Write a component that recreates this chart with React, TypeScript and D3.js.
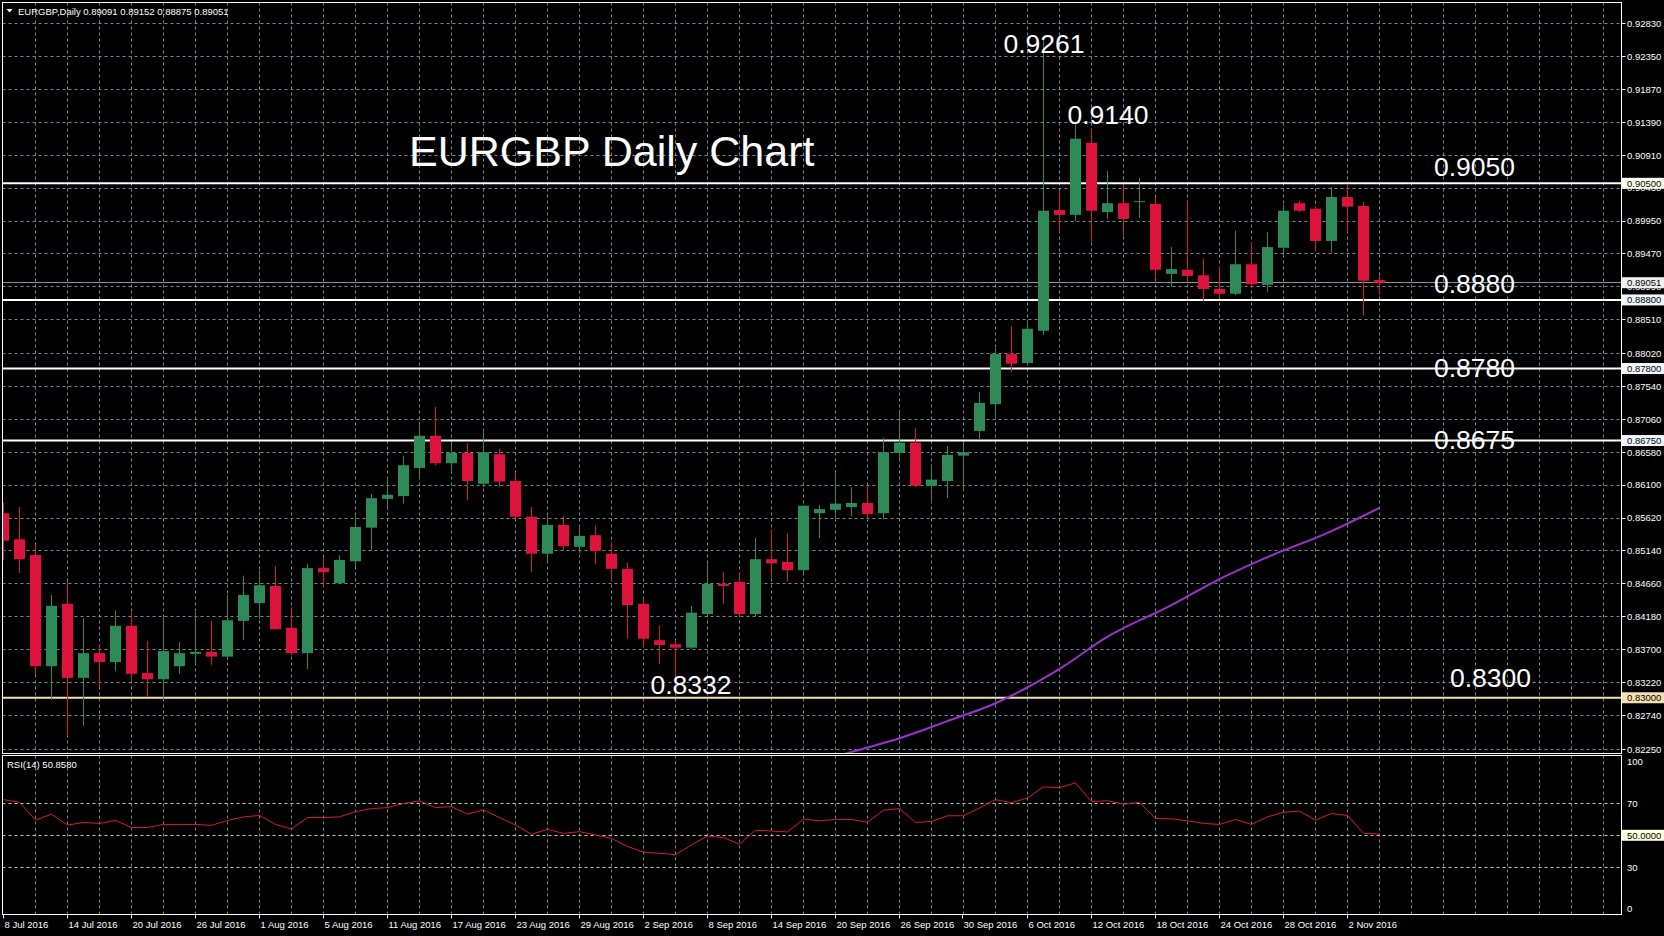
import React from 'react';
import * as d3 from 'd3';

const dateLabels = ["8 Jul 2016","14 Jul 2016","20 Jul 2016","26 Jul 2016","1 Aug 2016","5 Aug 2016","11 Aug 2016","17 Aug 2016","23 Aug 2016","29 Aug 2016","2 Sep 2016","8 Sep 2016","14 Sep 2016","20 Sep 2016","26 Sep 2016","30 Sep 2016","6 Oct 2016","12 Oct 2016","18 Oct 2016","24 Oct 2016","28 Oct 2016","2 Nov 2016"];

const opens = [0.8569,0.8531,0.8508,0.8346,0.8437,0.8329,0.8365,0.8352,0.8405,0.8336,0.8327,0.8346,0.8364,0.8367,0.8360,0.8412,0.8438,0.8463,0.8402,0.8365,0.8489,0.8467,0.8499,0.8548,0.8590,0.8594,0.8635,0.8682,0.8642,0.8657,0.8612,0.8655,0.8616,0.8564,0.8510,0.8552,0.8520,0.8537,0.8510,0.8488,0.8437,0.8384,0.8378,0.8373,0.8422,0.8466,0.8469,0.8422,0.8502,0.8498,0.8486,0.8569,0.8574,0.8578,0.8584,0.8569,0.8657,0.8672,0.8609,0.8616,0.8653,0.8689,0.8728,0.8801,0.8788,0.8835,0.9011,0.9004,0.9109,0.9008,0.9021,0.9023,0.9020,0.8918,0.8924,0.8916,0.8896,0.8889,0.8932,0.8902,0.8956,0.9021,0.9013,0.8966,0.9030,0.9017,0.89091];
const highs = [0.8585,0.8578,0.8523,0.8450,0.8469,0.8416,0.8378,0.8427,0.8424,0.8383,0.8421,0.8381,0.8425,0.8412,0.8450,0.8478,0.8486,0.8492,0.8432,0.8495,0.8504,0.8508,0.8565,0.8597,0.8623,0.8653,0.8702,0.8724,0.8673,0.8671,0.8693,0.8663,0.8628,0.8578,0.8565,0.8565,0.8553,0.8551,0.8527,0.8497,0.8444,0.8405,0.8384,0.8434,0.8496,0.8483,0.8483,0.8533,0.8545,0.8539,0.8581,0.8581,0.8632,0.8607,0.8610,0.8679,0.8720,0.8693,0.8641,0.8667,0.8673,0.8746,0.8810,0.8842,0.8851,0.9261,0.9039,0.9140,0.9129,0.9068,0.9046,0.9058,0.9030,0.8957,0.9026,0.8940,0.8928,0.8981,0.8964,0.8979,0.9019,0.9024,0.9016,0.9045,0.9049,0.9023,0.89152];
const lows = [0.8501,0.8482,0.8333,0.8297,0.8244,0.8259,0.8316,0.8339,0.8326,0.8301,0.8297,0.8335,0.8348,0.8348,0.8355,0.8384,0.8415,0.8399,0.8362,0.8342,0.8462,0.8467,0.8491,0.8515,0.8574,0.8583,0.8619,0.8639,0.8626,0.8588,0.8607,0.8607,0.8561,0.8483,0.8497,0.8515,0.8511,0.8495,0.8470,0.8386,0.8373,0.8349,0.8332,0.8371,0.8419,0.8437,0.8418,0.8419,0.8475,0.8470,0.8481,0.8533,0.8559,0.8565,0.8559,0.8560,0.8644,0.8607,0.8584,0.8591,0.8602,0.8676,0.8706,0.8775,0.8784,0.8829,0.8978,0.8995,0.8965,0.8998,0.8973,0.9000,0.8911,0.8899,0.8908,0.8879,0.8883,0.8887,0.8897,0.8892,0.8943,0.9008,0.8951,0.8949,0.8978,0.8857,0.88875];
const closes = [0.8529,0.8502,0.8346,0.8434,0.8329,0.8365,0.8352,0.8405,0.8335,0.8327,0.8368,0.8365,0.8367,0.8360,0.8413,0.8450,0.8464,0.8400,0.8365,0.8489,0.8483,0.8501,0.8549,0.8591,0.8596,0.8639,0.8682,0.8642,0.8657,0.8616,0.8658,0.8615,0.8564,0.8510,0.8552,0.8521,0.8536,0.8514,0.8488,0.8435,0.8386,0.8377,0.8373,0.8424,0.8466,0.8463,0.8422,0.8502,0.8496,0.8486,0.8580,0.8575,0.8583,0.8584,0.8568,0.8658,0.8672,0.8609,0.8618,0.8654,0.8658,0.8730,0.8801,0.8787,0.8838,0.9010,0.9004,0.9115,0.9010,0.9021,0.8998,0.9024,0.8924,0.8925,0.8915,0.8896,0.8889,0.8932,0.8903,0.8957,0.9010,0.9010,0.8966,0.9030,0.9016,0.8908,0.89051];

const rsiValues = [72.3,70.6,59.5,63.2,56.4,58.0,57.4,59.3,54.9,54.9,56.8,56.8,56.8,56.2,59.3,61.5,62.4,56.8,53.9,61.1,61.1,61.5,64.8,66.7,67.3,69.8,71.6,67.3,67.9,63.2,65.9,61.1,56.4,50.6,53.7,51.2,52.3,50.2,48.1,43.0,39.5,38.7,38.0,44.0,49.6,48.6,44.4,53.1,52.7,52.1,60.1,59.1,59.9,59.9,58.2,65.7,66.7,58.0,58.7,62.2,62.2,67.1,72.3,70.4,73.3,80.3,79.7,82.8,71.1,71.6,69.4,70.6,60.5,60.3,59.1,57.4,56.8,59.9,56.8,61.5,64.4,65.1,59.5,63.6,62.4,51.2,50.86];

const maBars = [52,53,56,59,62,66,69,73,76,79,83,86];
const maValues = [0.8214,0.8221,0.8241,0.8266,0.8292,0.8342,0.8389,0.8435,0.8473,0.8505,0.8543,0.8577];

const priceTicks = ["0.92830","0.92350","0.91870","0.91390","0.90910","0.90430","0.89950","0.89470","0.88990","0.88510","0.88020","0.87540","0.87060","0.86580","0.86100","0.85620","0.85140","0.84660","0.84180","0.83700","0.83220","0.82740","0.82250"];
const rsiLevels = [70, 50, 30];
const rsiTickLabels = ["100", "70", "30", "0"];
const rsiTickValues = [100, 70, 30, 0];

const levelValues = [0.905, 0.888, 0.878, 0.8675, 0.83];
const levelTexts = ["0.9050", "0.8880", "0.8780", "0.8675", "0.8300"];
const levelAxisTexts = ["0.90500", "0.88800", "0.87800", "0.86750", "0.83000"];
const lastPrice = 0.89051;

const headerText = "EURGBP,Daily  0.89091 0.89152 0.88875 0.89051";
const rsiHeader = "RSI(14) 50.8580";
const title = "EURGBP Daily Chart";

const FONT = "'Liberation Sans', Arial, sans-serif";
const GREEN = "#2e8b57";
const RED = "#dc143c";
const GRID = "#778899";

export default function App() {
  const left = 2.5, right = 1621.5, mainTop = 2.5, mainBottom = 753.5, rsiTop = 755.5, rsiBottom = 914.5;
  const x = d3.scaleLinear().domain([0, 100]).range([3.5, 1603.5]);
  const y = d3.scaleLinear().domain([0.8225, 0.9283]).range([749.2, 23.5]);
  const ry = d3.scaleLinear().domain([0, 100]).range([915.3, 755.3]);
  const crisp = (v: number) => Math.round(v - 0.5) + 0.5;

  const gridBars = d3.range(2, 101, 2);
  const rsiLine = d3.line<number>().x((_, i) => x(i)).y(d => ry(d))(rsiValues) || "";
  const maLine = d3.line<number>().x((_, i) => x(maBars[i])).y(d => y(d)).curve(d3.curveMonotoneX)(maValues) || "";

  const levelColors = ["#ffffff", "#ffffff", "#ffffff", "#ffffff", "#f5deb3"];
  const levelBoxColors = ["#fffff0", "#f0f8ff", "#f0f8ff", "#f0f8ff", "#f5deb3"];
  const levelTextDy = [-7.5, -7, 8.5, 8.5, -11];
  const levelTextX = [1434, 1434, 1434, 1434, 1450];

  return (
    <svg width={1664} height={936} style={{ position: 'absolute', left: 0, top: 0, background: '#000' }}
      fontFamily={FONT}>
      <defs>
        <clipPath id="mainClip"><rect x={left} y={mainTop} width={right - left} height={mainBottom - mainTop} /></clipPath>
        <clipPath id="rsiClip"><rect x={left} y={rsiTop} width={right - left} height={rsiBottom - rsiTop} /></clipPath>
      </defs>
      <rect x={0} y={0} width={1664} height={936} fill="#000" />

      {/* main grid */}
      <g stroke={GRID} strokeWidth={1} strokeDasharray="3,3">
        {priceTicks.map((t, i) => (
          <line key={'h' + i} x1={left} x2={right} y1={crisp(y(+t))} y2={crisp(y(+t))} />
        ))}
        {gridBars.map(b => (
          <line key={'v' + b} x1={x(b)} x2={x(b)} y1={mainTop} y2={mainBottom} />
        ))}
        {gridBars.map(b => (
          <line key={'rv' + b} x1={x(b)} x2={x(b)} y1={rsiTop} y2={rsiBottom} />
        ))}
      </g>
      <g stroke="#c8c8c8" strokeWidth={1} strokeDasharray="3,3">
        {rsiLevels.map(l => (
          <line key={'rl' + l} x1={left} x2={right} y1={crisp(ry(l))} y2={crisp(ry(l))} />
        ))}
      </g>

      {/* level lines */}
      <g>
        {levelValues.map((v, i) => (
          <line key={'lv' + i} x1={left} x2={right} y1={y(v)} y2={y(v)} stroke={levelColors[i]} strokeWidth={2} />
        ))}
        <line x1={left} x2={right} y1={crisp(y(lastPrice))} y2={crisp(y(lastPrice))} stroke="#8a96a3" strokeWidth={1} />
      </g>

      {/* candles */}
      <g clipPath="url(#mainClip)">
        {opens.map((o, i) => {
          const c = closes[i];
          const up = c >= o;
          const col = up ? GREEN : RED;
          const top = y(Math.max(o, c));
          const bot = y(Math.min(o, c));
          const cx = x(i);
          return (
            <g key={'c' + i}>
              <line x1={cx} x2={cx} y1={y(highs[i])} y2={y(lows[i])} stroke={col} strokeWidth={1} />
              <rect x={cx - 5.5} y={top} width={11} height={Math.max(1, bot - top)} fill={col} />
            </g>
          );
        })}
        <path d={maLine} fill="none" stroke="#9932cc" strokeWidth={2} />
      </g>

      {/* RSI */}
      <g clipPath="url(#rsiClip)">
        <path d={rsiLine} fill="none" stroke={RED} strokeWidth={1} />
      </g>

      {/* frames */}
      <rect x={left} y={mainTop} width={right - left} height={mainBottom - mainTop} fill="none" stroke="#fff" strokeWidth={1} />
      <rect x={left} y={rsiTop} width={right - left} height={rsiBottom - rsiTop} fill="none" stroke="#fff" strokeWidth={1} />

      {/* price axis labels */}
      <g fill="#fff" fontSize={9.5}>
        {priceTicks.map((t, i) => (
          <g key={'pt' + i}>
            <line x1={right} x2={right + 4} y1={crisp(y(+t))} y2={crisp(y(+t))} stroke="#fff" />
            <text x={1627} y={y(+t)} dy="0.35em">{t}</text>
          </g>
        ))}
      </g>
      {levelValues.map((v, i) => (
        <g key={'lb' + i}>
          <rect x={1622} y={y(v) - 5.5} width={42} height={11} fill={levelBoxColors[i]} />
          <text x={1627} y={y(v)} dy="0.35em" fontSize={9.5} fill="#000">{levelAxisTexts[i]}</text>
        </g>
      ))}
      <g>
        <rect x={1622} y={y(lastPrice) - 5.5} width={42} height={11} fill="#f0f0f0" />
        <text x={1627} y={y(lastPrice)} dy="0.35em" fontSize={9.5} fill="#000">{lastPrice.toFixed(5)}</text>
      </g>

      {/* RSI axis */}
      <g fill="#fff" fontSize={9.5}>
        {rsiTickValues.map((v, i) => {
          const yy = Math.min(Math.max(ry(v), rsiTop + 6), rsiBottom - 6);
          return <text key={'rt' + i} x={1627} y={yy} dy="0.35em">{rsiTickLabels[i]}</text>;
        })}
      </g>
      <rect x={1622} y={ry(50) - 5.5} width={42} height={11} fill="#ffffe0" />
      <text x={1627} y={ry(50)} dy="0.35em" fontSize={9.5} fill="#000">50.0000</text>

      {/* date axis */}
      <g fill="#fff" fontSize={9.5}>
        {dateLabels.map((d, i) => {
          const xx = Math.round(x(i * 4)) - 0.5;
          return (
            <g key={'d' + i}>
              <line x1={xx} x2={xx} y1={rsiBottom} y2={rsiBottom + 4} stroke="#fff" />
              <text x={xx + 1} y={924.5} dy="0.35em">{d}</text>
            </g>
          );
        })}
      </g>

      {/* headers */}
      <polygon points="6.5,9 12.5,9 9.5,12.5" fill="#fff" />
      <text x={18} y={11.5} dy="0.35em" fontSize={9.5} fill="#fff">{headerText}</text>
      <text x={7} y={765} dy="0.35em" fontSize={9.5} fill="#fff">{rsiHeader}</text>

      {/* annotations */}
      <text x={409} y={166} fontSize={43} fill="#fff">{title}</text>
      <text x={x(65) + 41} y={52.7} fontSize={26.5} fill="#fff" textAnchor="end">{highs[65].toFixed(4)}</text>
      <text x={x(67) - 8} y={124} fontSize={26.5} fill="#fff">{highs[67].toFixed(4)}</text>
      <text x={x(42) - 25} y={694} fontSize={26.5} fill="#fff">{lows[42].toFixed(4)}</text>
      {levelValues.map((v, i) => (
        <text key={'lt' + i} x={levelTextX[i]} y={y(v) + levelTextDy[i]} fontSize={26.5} fill="#fff">{levelTexts[i]}</text>
      ))}
    </svg>
  );
}
